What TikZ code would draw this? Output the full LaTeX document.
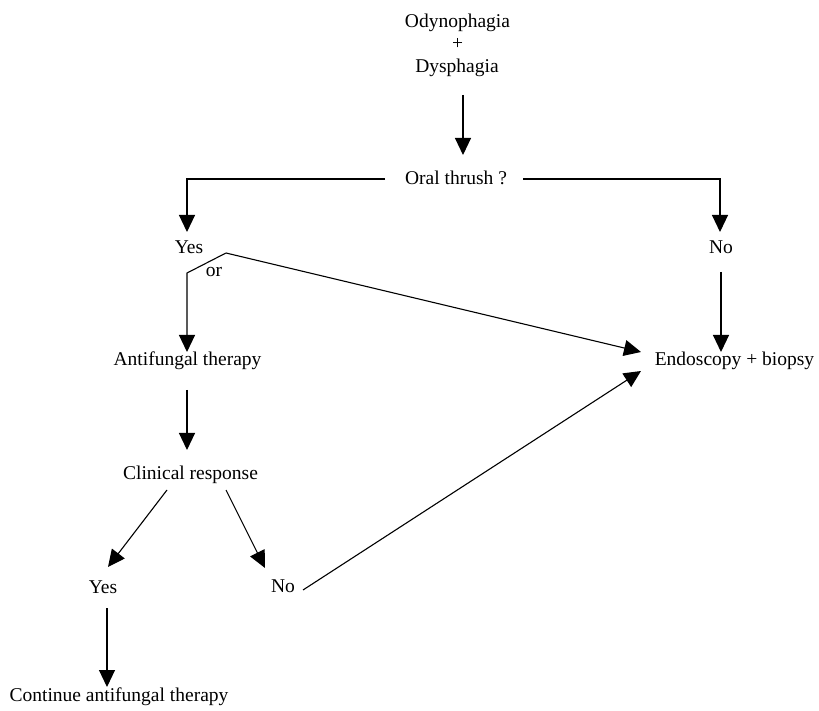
\documentclass[tikz,border=0pt]{standalone}
\usepackage{fontspec}
\setmainfont{Liberation Serif}
\usetikzlibrary{arrows.meta}
\begin{document}
\begin{tikzpicture}[x=1pt,y=1pt,
  lbl/.style={inner sep=0pt,anchor=base,font=\fontsize{19.5}{22}\selectfont},
  conn/.style={line width=1.1pt,draw=black},
  arr/.style={conn,-{Triangle[width=16pt,length=17pt]}}]
\useasboundingbox (0,0) rectangle (819,710);
% nodes
\node[lbl] (odyn) at (457.5,682) {Odynophagia};
\node[lbl] (plus) at (457.5,660) {+};
\node[lbl] (dysph) at (457,637) {Dysphagia};
\node[lbl] (oral) at (456,525) {Oral thrush ?};
\node[lbl] (yes1) at (189,456) {Yes};
\node[lbl] (no1) at (721,456) {No};
\node[lbl] (or) at (214,433) {or};
\node[lbl] (anti) at (187.5,344) {Antifungal therapy};
\node[lbl] (endo) at (734.5,344) {Endoscopy + biopsy};
\node[lbl] (clin) at (190.5,230) {Clinical response};
\node[lbl] (yes2) at (103,117) {Yes};
\node[lbl] (no2) at (283,118) {No};
\node[lbl] (cont) at (119,9) {Continue antifungal therapy};
% connectors
\draw[arr] ([shift={(6,-22)}]dysph.base) -- ([shift={(7,30)}]oral.base);
\draw[arr] ([shift={(-71,6)}]oral.base) -| ([shift={(-2,22)}]yes1.base);
\draw[arr] ([shift={(67,6)}]oral.base) -| ([shift={(-1,22)}]no1.base);
\draw[arr] ([shift={(0,-18)}]no1.base) -- ([shift={(-13.5,14)}]endo.base);
\draw[arr] ([shift={(12,24)}]or.base) -- ([shift={(-27,4)}]or.base) -- ([shift={(-0.5,14)}]anti.base);
\draw[arr] ([shift={(12,24)}]or.base) -- ([shift={(-93.5,14)}]endo.base);
\draw[arr] ([shift={(-0.5,-24)}]anti.base) -- ([shift={(-3.5,30)}]clin.base);
\draw[arr] ([shift={(-23.5,-10)}]clin.base) -- ([shift={(5,26)}]yes2.base);
\draw[arr] ([shift={(35.5,-10)}]clin.base) -- ([shift={(-18,24)}]no2.base);
\draw[arr] ([shift={(20,2)}]no2.base) -- ([shift={(-93.5,-5)}]endo.base);
\draw[arr] ([shift={(4,-15)}]yes2.base) -- ([shift={(-12,14)}]cont.base);
\end{tikzpicture}
\end{document}
